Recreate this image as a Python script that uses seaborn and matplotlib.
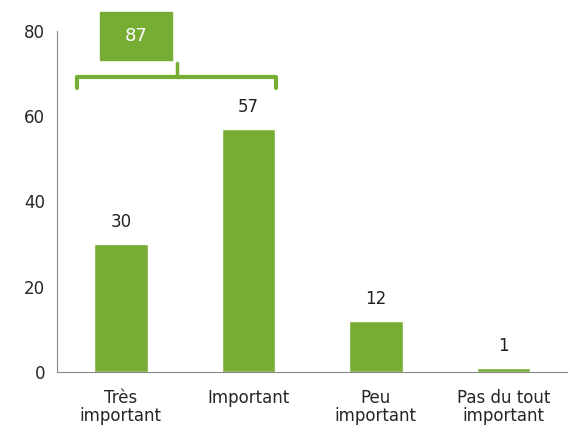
import seaborn as sns
import matplotlib.pyplot as plt
import pandas as pd

categories = ['Très\nimportant', 'Important', 'Peu\nimportant', 'Pas du tout\nimportant']
values = [30, 57, 12, 1]
total_label = '87'

green = '#78AD34'

df = pd.DataFrame({'cat': categories, 'val': values})

sns.set_style('white')
plt.rcParams['font.family'] = ['DejaVu Sans']

fig = plt.figure(figsize=(5.7, 4.34), dpi=100)
ax = fig.add_axes([0.1, 0.143, 0.895, 0.786])

sns.barplot(data=df, x='cat', y='val', color=green, width=0.42, saturation=1, ax=ax)

for i, v in enumerate(values):
    ax.text(i, v + 3, str(v), ha='center', va='bottom', fontsize=12, color='#222222')

ax.set_xlim(-0.5, 3.5)
ax.set_ylim(0, 80)
ax.set_yticks([0, 20, 40, 60, 80])
ax.set_xlabel('')
ax.set_ylabel('')
ax.set_xticks(range(len(categories)))
ax.set_xticklabels(categories, fontsize=12, linespacing=1.0)
ax.set_xticks([-0.5, 0.5, 1.5, 2.5, 3.5], minor=True)
ax.tick_params(axis='x', which='major', length=0, pad=12)
ax.tick_params(axis='x', which='minor', length=5, color='#888888', direction='out')
ax.tick_params(axis='y', length=5, color='#888888', direction='out', labelsize=12)

for s in ['top', 'right']:
    ax.spines[s].set_visible(False)
for s in ['left', 'bottom']:
    ax.spines[s].set_color('#888888')

# bracket grouping the first two bars
bx0, bx1, bxc = -0.34, 1.22, 0.44
ax.plot([bx0, bx0, bx1, bx1], [66.5, 69.2, 69.2, 66.5], color=green, lw=3,
        clip_on=False, solid_joinstyle='round', solid_capstyle='round')
ax.plot([bxc, bxc], [69.2, 72.5], color=green, lw=2.5, clip_on=False)
ax.add_patch(plt.Rectangle((-0.16, 73.2), 0.56, 11.1, color=green, clip_on=False))
ax.text(0.12, 78.7, total_label, ha='center', va='center', color='white', fontsize=13)

fig.savefig('out.png', dpi=100)
